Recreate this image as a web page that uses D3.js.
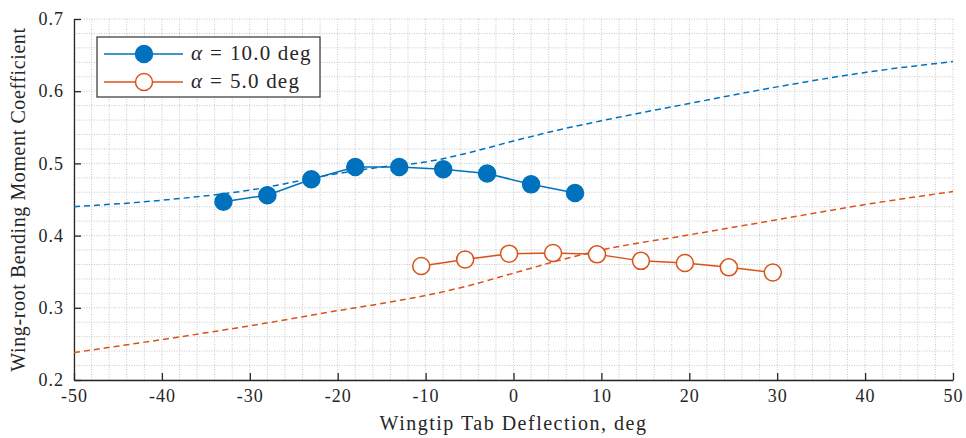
<!DOCTYPE html>
<html>
<head>
<meta charset="utf-8">
<script src="https://cdn.jsdelivr.net/npm/d3@7"></script>
<style>
  body { margin: 0; background: #fff; }
  svg text { font-family: "Liberation Serif", "DejaVu Serif", serif; fill: #262626; }
</style>
</head>
<body>
<div id="chart"></div>
<script>
// measured points
var tabA10 = [-33, -28, -23, -18, -13, -8, -3, 2, 7];
var cmA10 = [0.447, 0.456, 0.478, 0.495, 0.495, 0.492, 0.486, 0.471, 0.459];
var tabA5 = [-10.5, -5.5, -0.5, 4.5, 9.5, 14.5, 19.5, 24.5, 29.5];
var cmA5 = [0.358, 0.367, 0.375, 0.376, 0.374, 0.365, 0.362, 0.356, 0.349];

// prediction curves (dashed)
var predX = [-50, -40, -30, -20, -15, -10, -5, 0, 5, 10, 20, 30, 40, 50];
var predA10 = [0.440, 0.449, 0.463, 0.486, 0.495, 0.502, 0.515, 0.531, 0.546, 0.559, 0.583, 0.606, 0.626, 0.641];
var predA5 = [0.238, 0.256, 0.275, 0.296, 0.306, 0.317, 0.331, 0.348, 0.365, 0.380, 0.401, 0.422, 0.443, 0.461];

var xTicks = [-50, -40, -30, -20, -10, 0, 10, 20, 30, 40, 50];
var yTicks = [0.2, 0.3, 0.4, 0.5, 0.6, 0.7];
var seriesNames = ["10.0", "5.0"];

var W = 966, H = 438;
var margin = {left: 74, right: 13, top: 19, bottom: 58};
var blue = "#0072BD", orange = "#D95319";

var svg = d3.select("#chart").append("svg")
    .attr("width", W).attr("height", H);

var x = d3.scaleLinear().domain([-50, 50]).range([margin.left, W - margin.right]);
var y = d3.scaleLinear().domain([0.2, 0.7]).range([H - margin.bottom, margin.top]);

// grid (major + minor, all dotted)
var grid = svg.append("g");
grid.selectAll("line.gx").data(d3.range(-50, 50.01, 2)).enter().append("line")
    .attr("x1", function(d){ return x(d); }).attr("x2", function(d){ return x(d); })
    .attr("y1", y(0.2)).attr("y2", y(0.7))
    .attr("stroke", "#c8c8c8").attr("stroke-width", 1).attr("stroke-dasharray", "1,1.5");
grid.selectAll("line.gy").data(d3.range(0.2, 0.7001, 0.02)).enter().append("line")
    .attr("y1", function(d){ return y(d); }).attr("y2", function(d){ return y(d); })
    .attr("x1", x(-50)).attr("x2", x(50))
    .attr("stroke", "#c8c8c8").attr("stroke-width", 1).attr("stroke-dasharray", "1,1.5");

// axes
var xAxis = d3.axisBottom(x).tickValues(xTicks).tickSizeInner(-7).tickSizeOuter(0).tickPadding(9)
    .tickFormat(function(d){ return d < 0 ? "-" + Math.abs(d) : d; });
var yAxis = d3.axisLeft(y).tickValues(yTicks).tickSizeInner(-7).tickSizeOuter(0).tickPadding(10)
    .tickFormat(d3.format(".1f"));

var gx = svg.append("g").attr("transform", "translate(0," + y(0.2) + ")").call(xAxis);
var gy = svg.append("g").attr("transform", "translate(" + x(-50) + ",0)").call(yAxis);
[gx, gy].forEach(function(g){
    g.select(".domain").attr("stroke", "#262626").attr("stroke-width", 1.3);
    g.selectAll(".tick line").attr("stroke", "#262626").attr("stroke-width", 1.3);
    g.selectAll(".tick text").style("font-family", "Liberation Serif, serif")
        .style("font-size", "18px").style("letter-spacing", "1px").attr("fill", "#262626");
});

svg.append("text").attr("x", x(0)).attr("y", 430).attr("text-anchor", "middle")
    .style("font-size", "20px").style("letter-spacing", "1.5px")
    .text("Wingtip Tab Deflection, deg");
svg.append("text").attr("transform", "translate(25," + y(0.45) + ") rotate(-90)")
    .attr("text-anchor", "middle").style("font-size", "20px").style("letter-spacing", "0.6px")
    .text("Wing-root Bending Moment Coefficient");

// dashed predictions
var line = d3.line().x(function(d){ return x(d[0]); }).y(function(d){ return y(d[1]); })
    .curve(d3.curveMonotoneX);
svg.append("path").datum(d3.zip(predX, predA10)).attr("d", line)
    .attr("fill", "none").attr("stroke", blue).attr("stroke-width", 1.5).attr("stroke-dasharray", "6,4");
svg.append("path").datum(d3.zip(predX, predA5)).attr("d", line)
    .attr("fill", "none").attr("stroke", orange).attr("stroke-width", 1.5).attr("stroke-dasharray", "6,4");

// measured series
var lin = d3.line().x(function(d){ return x(d[0]); }).y(function(d){ return y(d[1]); });
function drawSeries(xs, ys, col, filled){
    var data = d3.zip(xs, ys);
    svg.append("path").datum(data).attr("d", lin)
        .attr("fill", "none").attr("stroke", col).attr("stroke-width", 1.5);
    svg.append("g").selectAll("circle").data(data).enter().append("circle")
        .attr("cx", function(d){ return x(d[0]); }).attr("cy", function(d){ return y(d[1]); })
        .attr("r", 8.5)
        .attr("fill", filled ? col : "#fff")
        .attr("stroke", col).attr("stroke-width", 1.5);
}
drawSeries(tabA10, cmA10, blue, true);
drawSeries(tabA5, cmA5, orange, false);

// legend
var leg = svg.append("g").attr("transform", "translate(97,37)");
leg.append("rect").attr("width", 223).attr("height", 60)
    .attr("fill", "#fff").attr("stroke", "#333").attr("stroke-width", 1.2);
var items = [{name: seriesNames[0], col: blue, filled: true}, {name: seriesNames[1], col: orange, filled: false}];
items.forEach(function(it, i){
    var ly = 17 + i * 28;
    leg.append("line").attr("x1", 7).attr("x2", 86).attr("y1", ly).attr("y2", ly)
        .attr("stroke", it.col).attr("stroke-width", 1.5);
    leg.append("circle").attr("cx", 47).attr("cy", ly).attr("r", 8.5)
        .attr("fill", it.filled ? it.col : "#fff").attr("stroke", it.col).attr("stroke-width", 1.5);
    var t = leg.append("text").attr("x", 94).attr("y", ly + 6).style("font-size", "21px");
    t.append("tspan").style("font-style", "italic").text("α");
    t.append("tspan").attr("dx", 8).text("=");
    t.append("tspan").attr("dx", 8).style("letter-spacing", "1.2px").text(it.name + " deg");
});
</script>
</body>
</html>
